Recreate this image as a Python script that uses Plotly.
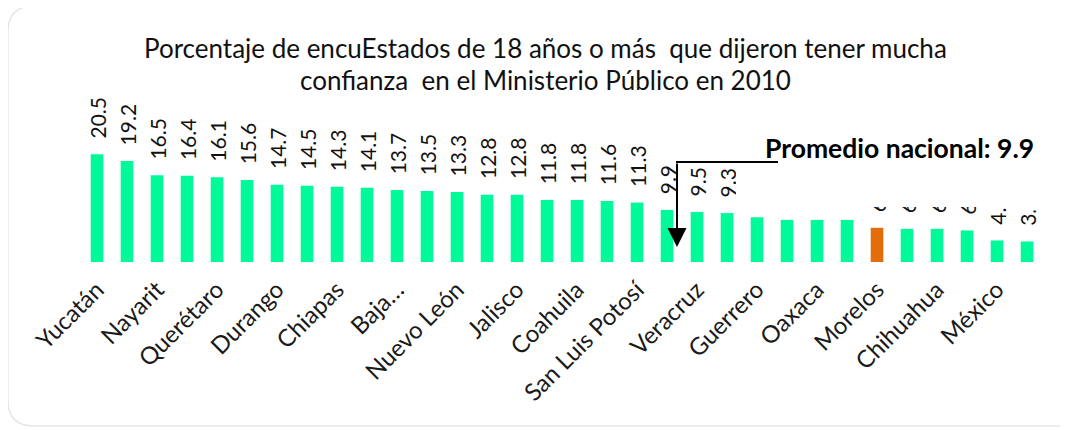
import plotly.graph_objects as go

# ---------------- data ----------------
states = [
    "Yucatán", "Aguascalientes", "Nayarit", "Campeche", "Querétaro", "Colima",
    "Durango", "Tlaxcala", "Chiapas", "Sonora", "Baja California Sur", "Zacatecas",
    "Nuevo León", "Sinaloa", "Jalisco", "Quintana Roo", "Coahuila", "Hidalgo",
    "San Luis Potosí", "Tamaulipas", "Veracruz", "Puebla", "Guerrero", "Guanajuato",
    "Oaxaca", "Tabasco", "Morelos", "Baja California", "Chihuahua", "Michoacán",
    "México", "Distrito Federal",
]
values = [
    20.5, 19.2, 16.5, 16.4, 16.1, 15.6, 14.7, 14.5, 14.3, 14.1, 13.7, 13.5,
    13.3, 12.8, 12.8, 11.8, 11.8, 11.6, 11.3, 9.9, 9.5, 9.3, 8.5, 8.0,
    8.0, 8.0, 6.5, 6.3, 6.3, 6.0, 4.1, 3.9,
]
value_labels = [
    "20.5", "19.2", "16.5", "16.4", "16.1", "15.6", "14.7", "14.5", "14.3", "14.1",
    "13.7", "13.5", "13.3", "12.8", "12.8", "11.8", "11.8", "11.6", "11.3", "9.9",
    "9.5", "9.3", "8.5", "8.0", "8.0", "8.0", "6.5", "6.3", "6.3", "6.0", "4.1", "3.9",
]
tick_states = states[::2]
tick_labels = [
    "Yucatán", "Nayarit", "Querétaro", "Durango", "Chiapas", "Baja…",
    "Nuevo León", "Jalisco", "Coahuila", "San Luis Potosí", "Veracruz",
    "Guerrero", "Oaxaca", "Morelos", "Chihuahua", "México",
]
highlight = "Morelos"
national_avg_text = "Promedio nacional: 9.9"
title_line1 = "Porcentaje de encuEstados de 18 años o más  que dijeron tener mucha"
title_line2 = "confianza  en el Ministerio Público en 2010"

# ---------------- styling ----------------
W, H = 1068, 430
OFF = 8                       # page body margin offset
PLOT_L, PLOT_R, BASE, PPU = 82, 1042, 262, 5.26   # reference pixel geometry
PLOT_T = 130
L = PLOT_L - OFF
R = W - (PLOT_R - OFF)
T = PLOT_T - OFF
B = H - (BASE - OFF)
GREEN = "#00FA9A"
ORANGE = "#E46C0A"
FONT = "Lato"

plot_w = W - L - R
plot_h = H - T - B


def px(xp):
    return (xp - OFF - L) / plot_w


def py(yp):
    return (H - B - (yp - OFF)) / plot_h


colors = [ORANGE if s == highlight else GREEN for s in states]
label_gap = 2.4  # value units between bar top and label

fig = go.Figure()
fig.add_trace(go.Bar(
    x=states, y=values,
    marker=dict(color=colors, line=dict(width=0)),
    width=0.42, hoverinfo="x+y",
))
fig.add_trace(go.Bar(
    x=states, y=[v + label_gap for v in values],
    marker=dict(color="rgba(0,0,0,0)", line=dict(width=0)),
    width=0.42, hoverinfo="skip",
    text=value_labels, textposition="outside", textangle=-90,
    constraintext="none", cliponaxis=False,
    textfont=dict(family=FONT, size=21, color="#111111"),
))

annotations = [
    dict(x=px(545), y=py(48), xref="paper", yref="paper", text=title_line1,
         showarrow=False, xanchor="center", yanchor="middle",
         font=dict(family=FONT, size=26, color="#111111")),
    dict(x=px(545), y=py(80), xref="paper", yref="paper", text=title_line2,
         showarrow=False, xanchor="center", yanchor="middle",
         font=dict(family=FONT, size=26, color="#111111")),
    dict(x=px(1036), y=py(148), xref="paper", yref="paper",
         text="<b>" + national_avg_text + "</b>",
         showarrow=False, xanchor="right", yanchor="middle",
         font=dict(family=FONT, size=26.5, color="#000000")),
    dict(x=px(677), y=py(247), xref="paper", yref="paper", text="",
         showarrow=True, ax=0, ay=-85, axref="pixel", ayref="pixel",
         arrowhead=2, arrowsize=1.9, arrowwidth=2, arrowcolor="#000000"),
]

shapes = [
    # masking boxes (hide some value labels, like the reference)
    dict(type="rect", xref="paper", yref="paper", layer="above",
         x0=px(736), x1=px(1050), y0=py(110), y1=py(207),
         fillcolor="white", line=dict(width=0)),
    dict(type="rect", xref="paper", yref="paper", layer="above",
         x0=px(1012), x1=px(1050), y0=py(200), y1=py(210.5),
         fillcolor="white", line=dict(width=0)),
    # horizontal callout line
    dict(type="line", xref="paper", yref="paper", layer="above",
         x0=px(676), x1=px(778), y0=py(162), y1=py(162),
         line=dict(color="#000000", width=2)),
]

# rounded frame
x0, x1, y0, y1, r = 8, 1085, 6, 426, 26
frame = (f"M {px(x0 + r)},{py(y0)} L {px(x1 - r)},{py(y0)} "
         f"Q {px(x1)},{py(y0)} {px(x1)},{py(y0 + r)} L {px(x1)},{py(y1 - r)} "
         f"Q {px(x1)},{py(y1)} {px(x1 - r)},{py(y1)} L {px(x0 + r)},{py(y1)} "
         f"Q {px(x0)},{py(y1)} {px(x0)},{py(y1 - r)} L {px(x0)},{py(y0 + r)} "
         f"Q {px(x0)},{py(y0)} {px(x0 + r)},{py(y0)} Z")
shapes.insert(0, dict(type="path", path=frame, xref="paper", yref="paper",
                      layer="below", line=dict(color="#e6e6e6", width=1.5)))

fig.update_layout(
    width=W, height=H,
    margin=dict(l=L, r=R, t=T, b=B, autoexpand=False),
    paper_bgcolor="white", plot_bgcolor="rgba(0,0,0,0)",
    showlegend=False,
    barmode="overlay",
    xaxis=dict(
        type="category", range=[-0.5, len(states) - 0.5],
        tickmode="array", tickvals=tick_states, ticktext=tick_labels,
        tickangle=-45, showgrid=False, showline=False, zeroline=False,
        ticks="", ticklabelstandoff=8,
        tickfont=dict(family=FONT, size=24, color="#1a1a1a"),
    ),
    yaxis=dict(
        range=[0, plot_h / PPU], visible=False, showgrid=False, zeroline=False,
    ),
    annotations=annotations,
    shapes=shapes,
)

fig.write_html("out.html")
